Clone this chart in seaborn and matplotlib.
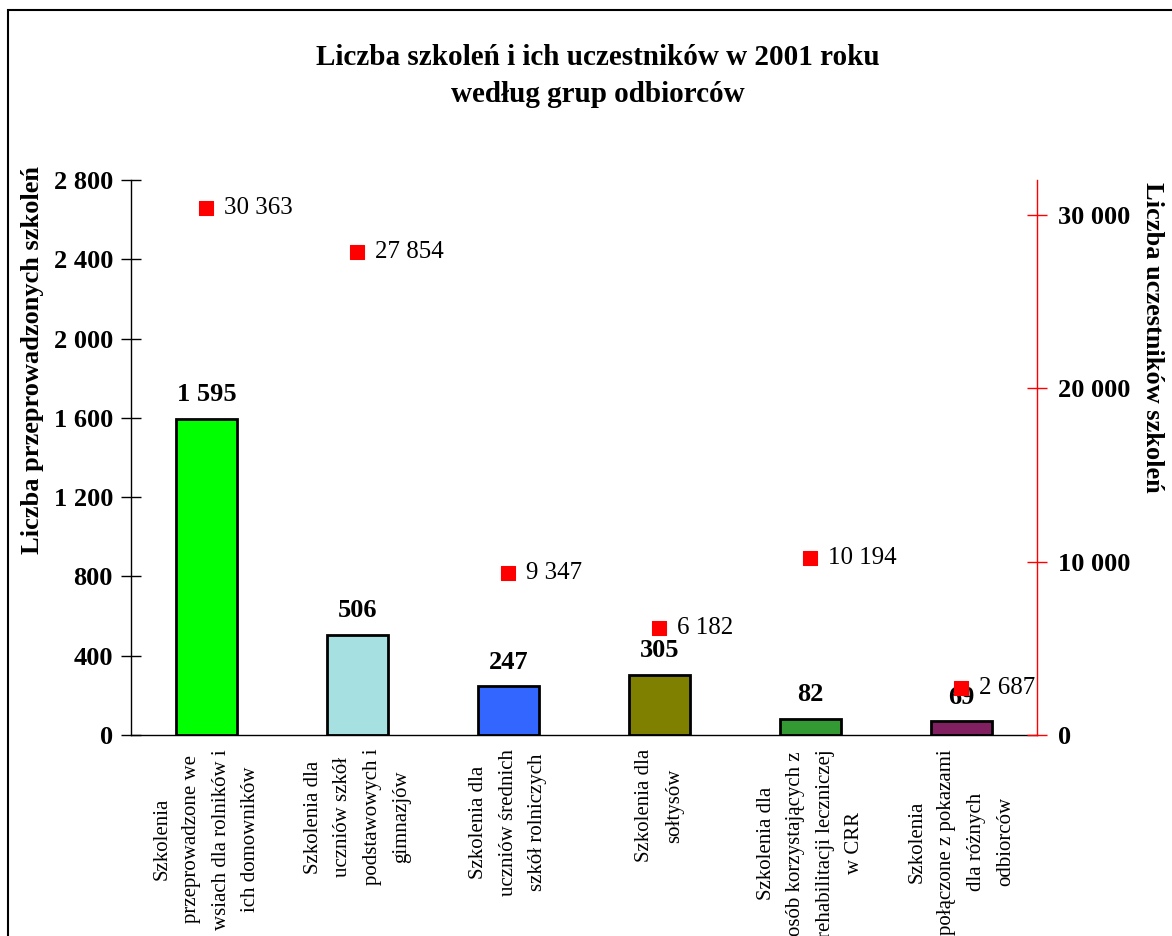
import numpy as np
import pandas as pd
import matplotlib
matplotlib.use('Agg')
import matplotlib.pyplot as plt
from matplotlib.patches import Rectangle
import seaborn as sns

# dane
kategorie = [
    'Szkolenia\nprzeprowadzone we\nwsiach dla rolników i\nich domowników',
    'Szkolenia dla\nuczniów szkół\npodstawowych i\ngimnazjów',
    'Szkolenia dla\nuczniów średnich\nszkół rolniczych',
    'Szkolenia dla\nsołtysów',
    'Szkolenia dla\nosób korzystających z\nrehabilitacji leczniczej\nw CRR',
    'Szkolenia\npołączone z pokazami\ndla różnych\nodbiorców',
]
liczba_szkolen = [1595, 506, 247, 305, 82, 69]
liczba_uczestnikow = [30363, 27854, 9347, 6182, 10194, 2687]
kolory = ['#00FF00', '#A6E0E0', '#3366FF', '#808000', '#339933', '#802060']

def fmt(v):
    return f'{v:,}'.replace(',', ' ')

df = pd.DataFrame({'kategoria': kategorie,
                   'szkolenia': liczba_szkolen,
                   'uczestnicy': liczba_uczestnikow})

sns.set_style('white')
plt.rcParams['font.family'] = ['Liberation Serif', 'DejaVu Serif']
plt.rcParams['text.color'] = 'black'
plt.rcParams['xtick.color'] = 'black'
plt.rcParams['ytick.color'] = 'black'
plt.rcParams['xtick.labelcolor'] = 'black'
plt.rcParams['ytick.labelcolor'] = 'black'

fig = plt.figure(figsize=(11.72, 9.36), dpi=100)
ax = fig.add_axes([131 / 1172, 201 / 936, 906 / 1172, 555 / 936])

sns.barplot(data=df, x='kategoria', y='szkolenia', hue='kategoria',
            palette=kolory, saturation=1, dodge=False, width=0.4,
            edgecolor='black', linewidth=2, legend=False, ax=ax)

ax.set_ylim(0, 2800)
ax.set_yticks(np.arange(0, 2801, 400))
ax.set_yticklabels([fmt(v) for v in range(0, 2801, 400)],
                   fontsize=19, fontweight='bold')
ax.set_xlim(-0.5, len(kategorie) - 0.5)
ax.set_xticks(np.arange(-0.5, len(kategorie), 1))
ax.set_xticklabels([])
ax.set_xticks(np.arange(len(kategorie)), minor=True)
ax.set_xticklabels(kategorie, minor=True, rotation=90, fontsize=15,
                   multialignment='center', va='top', ha='center',
                   linespacing=1.75)
ax.tick_params(axis='x', which='minor', length=0, pad=10)
ax.tick_params(axis='x', which='major', direction='inout', length=14,
               width=1, color='#555555')
ax.tick_params(axis='y', direction='inout', length=14, width=1, pad=6)
ax.set_xlabel('')
ax.set_ylabel('')
for s in ['top', 'right']:
    ax.spines[s].set_visible(False)
for s in ['left', 'bottom']:
    ax.spines[s].set_color('black')
    ax.spines[s].set_linewidth(1)

for p, v in zip(ax.patches, liczba_szkolen):
    ax.annotate(fmt(v), (p.get_x() + p.get_width() / 2, p.get_height()),
                xytext=(0, 9), textcoords='offset points', ha='center',
                va='bottom', fontsize=19, fontweight='bold')

ax2 = ax.twinx()
sns.scatterplot(data=df, x='kategoria', y='uczestnicy', marker='s', s=95,
                color='#FF0000', edgecolor='#FF0000', ax=ax2, zorder=5)
ax2.set_ylim(0, 32000)
ax2.set_yticks([0, 10000, 20000, 30000])
ax2.set_yticklabels([fmt(v) for v in [0, 10000, 20000, 30000]],
                    fontsize=19, fontweight='bold')
ax2.tick_params(axis='y', direction='inout', length=14, width=1,
                color='#FF0000', pad=8)
ax2.set_ylabel('')
ax2.set_xlabel('')
for s in ['top', 'left', 'bottom']:
    ax2.spines[s].set_visible(False)
ax2.spines['right'].set_color('#FF0000')
ax2.spines['right'].set_linewidth(1)

for i, v in enumerate(liczba_uczestnikow):
    ax2.annotate(fmt(v), (i, v), xytext=(12.5, 0), textcoords='offset points',
                 ha='left', va='center', fontsize=18)

fig.text(0.51, 1 - 76 / 936, 'Liczba szkoleń i ich uczestników w 2001 roku\nwedług grup odbiorców',
         ha='center', va='center', fontsize=21, fontweight='bold',
         linespacing=1.5)
fig.text(33 / 1172, 1 - 360 / 936, 'Liczba przeprowadzonych szkoleń',
         rotation=90, ha='center', va='center', fontsize=19, fontweight='bold')
fig.text(1153 / 1172, 1 - 337 / 936, 'Liczba uczestników szkoleń',
         rotation=-90, ha='center', va='center', fontsize=19, fontweight='bold')

fig.patches.append(Rectangle((8 / 1172, -0.1), 1.2, 1.1 - 10 / 936,
                             transform=fig.transFigure, fill=False,
                             edgecolor='black', linewidth=1.5))

fig.savefig('out.png', dpi=100)
